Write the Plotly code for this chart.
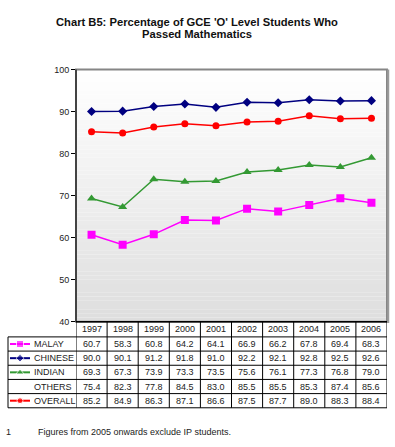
import plotly.graph_objects as go

W, H = 395, 447
years = [1997, 1998, 1999, 2000, 2001, 2002, 2003, 2004, 2005, 2006]
malay = [60.7, 58.3, 60.8, 64.2, 64.1, 66.9, 66.2, 67.8, 69.4, 68.3]
chinese = [90.0, 90.1, 91.2, 91.8, 91.0, 92.2, 92.1, 92.8, 92.5, 92.6]
indian = [69.3, 67.3, 73.9, 73.3, 73.5, 75.6, 76.1, 77.3, 76.8, 79.0]
others = [75.4, 82.3, 77.8, 84.5, 83.0, 85.5, 85.5, 85.3, 87.4, 85.6]
overall = [85.2, 84.9, 86.3, 87.1, 86.6, 87.5, 87.7, 89.0, 88.3, 88.4]
y_ticks = [40, 50, 60, 70, 80, 90, 100]

title_lines = ["Chart B5: Percentage of GCE 'O' Level Students Who", "Passed Mathematics"]
footnote_no = "1"
footnote = "Figures from 2005 onwards exclude IP students."

series = [
    ("MALAY", malay, "#ff00ff", "square", 8),
    ("CHINESE", chinese, "#000080", "diamond", 7),
    ("INDIAN", indian, "#339933", "triangle-up", 8),
    ("OTHERS", others, None, None, 0),
    ("OVERALL", overall, "#ff0000", "circle", 7),
]

FONT = "Arial, Liberation Sans, sans-serif"
TXT = "#222222"

def px(p):
    return p / W

def py(p):
    return 1 - p / H

PL, PR, PT, PB = 76, 387, 66, 324

fig = go.Figure()
for name, vals, col, sym, sz in series:
    if col is None:
        continue
    fig.add_trace(go.Scatter(
        x=years, y=vals, mode="lines+markers", name=name,
        line=dict(color=col, width=1.5),
        marker=dict(symbol=sym, size=sz, color=col),
        xaxis="x", yaxis="y", showlegend=False, hoverinfo="skip"))

shapes = []
N = 60
for i in range(N):
    t = i / (N - 1)
    v = int(round(222 + (255 - 222) * t))
    shapes.append(dict(type="rect", xref="x domain", yref="y domain",
                       x0=0, x1=1, y0=i / N, y1=(i + 1) / N,
                       fillcolor=f"rgb({v},{v},{v})", line=dict(width=0), layer="below"))
shapes.append(dict(type="rect", xref="x domain", yref="y domain", x0=0, x1=1, y0=0, y1=1,
                   line=dict(color="#868686", width=2), layer="above"))
shapes.append(dict(type="line", xref="x domain", yref="y domain", x0=1.004, x1=1.004, y0=-0.005, y1=1,
                   line=dict(color="#9a9a9a", width=2), layer="above"))
shapes.append(dict(type="line", xref="x domain", yref="y domain", x0=0, x1=0, y0=0, y1=1,
                   line=dict(color="#000000", width=1), layer="above"))

row_bounds = [324, 339.5, 354, 368.5, 383, 397.5, 412]
TL = 8
shapes.append(dict(type="line", xref="paper", yref="paper", x0=px(PL), x1=px(PR),
                   y0=py(row_bounds[0]), y1=py(row_bounds[0]), line=dict(color="#000", width=1.5)))
for rb in row_bounds[1:]:
    shapes.append(dict(type="line", xref="paper", yref="paper", x0=px(TL), x1=px(PR),
                       y0=py(rb), y1=py(rb), line=dict(color="#000", width=1)))
shapes.append(dict(type="line", xref="paper", yref="paper", x0=px(TL), x1=px(TL),
                   y0=py(row_bounds[1]), y1=py(row_bounds[-1]), line=dict(color="#000", width=1)))
for k in range(len(years) + 1):
    xv = years[0] - 0.5 + k
    shapes.append(dict(type="line", xref="x", yref="paper", x0=xv, x1=xv,
                       y0=py(row_bounds[0]), y1=py(row_bounds[-1]), line=dict(color="#000", width=1)))

ann = []
for i, t in enumerate(title_lines):
    ann.append(dict(text=f"<b>{t}</b>", xref="paper", yref="paper", x=px(197), y=py(17 + 13 * i),
                    showarrow=False, xanchor="center", yanchor="middle",
                    font=dict(family=FONT, size=11.2, color="#111")))

def rmid_px(r):
    return (row_bounds[r] + row_bounds[r + 1]) / 2

for yr in years:
    ann.append(dict(text=str(yr), xref="x", yref="paper", x=yr, y=py(rmid_px(0)), showarrow=False,
                    xanchor="center", yanchor="middle", font=dict(family=FONT, size=9, color=TXT)))

for r, (name, vals, col, sym, sz) in enumerate(series, start=1):
    ann.append(dict(text=name, xref="paper", yref="paper", x=px(32), y=py(rmid_px(r)), showarrow=False,
                    xanchor="left", yanchor="middle", font=dict(family=FONT, size=9, color=TXT)))
    for yr, v in zip(years, vals):
        ann.append(dict(text=f"{v:.1f}", xref="x", yref="paper", x=yr, y=py(rmid_px(r)), showarrow=False,
                        xanchor="center", yanchor="middle", font=dict(family=FONT, size=9, color=TXT)))
    if col is not None:
        yy = rmid_px(r)
        fig.add_trace(go.Scatter(x=[10, 20, 30], y=[yy, yy, yy], mode="lines+markers",
                                 line=dict(color=col, width=2),
                                 marker=dict(symbol=sym, size=[0, sz - 1, 0], color=col),
                                 xaxis="x2", yaxis="y2", showlegend=False, hoverinfo="skip",
                                 cliponaxis=False))

ann.append(dict(text=footnote_no, xref="paper", yref="paper", x=px(4), y=py(437), showarrow=False,
                xanchor="left", yanchor="middle", font=dict(family=FONT, size=9, color=TXT)))
ann.append(dict(text=footnote, xref="paper", yref="paper", x=px(36), y=py(437), showarrow=False,
                xanchor="left", yanchor="middle", font=dict(family=FONT, size=9, color=TXT)))

fig.update_layout(
    width=W, height=H,
    margin=dict(l=0, r=0, t=0, b=0),
    paper_bgcolor="white", plot_bgcolor="rgba(0,0,0,0)",
    hovermode=False,
    xaxis=dict(domain=[px(PL), px(PR)], range=[years[0] - 0.5, years[-1] + 0.5],
               showticklabels=False, showgrid=False, zeroline=False, ticks=""),
    yaxis=dict(domain=[py(PB), py(PT)], range=[40, 100], tickvals=y_ticks,
               ticks="outside", ticklen=4, tickcolor="#000", showgrid=False, zeroline=False,
               tickfont=dict(family=FONT, size=9, color=TXT)),
    xaxis2=dict(domain=[0, 1], range=[0, W], visible=False, anchor="y2"),
    yaxis2=dict(domain=[0, 1], range=[H, 0], visible=False, anchor="x2"),
    shapes=shapes, annotations=ann,
)

fig.write_html("out.html", config={"displayModeBar": False, "staticPlot": True},
               post_script="document.body.style.margin='0';document.documentElement.style.overflow='hidden';")
